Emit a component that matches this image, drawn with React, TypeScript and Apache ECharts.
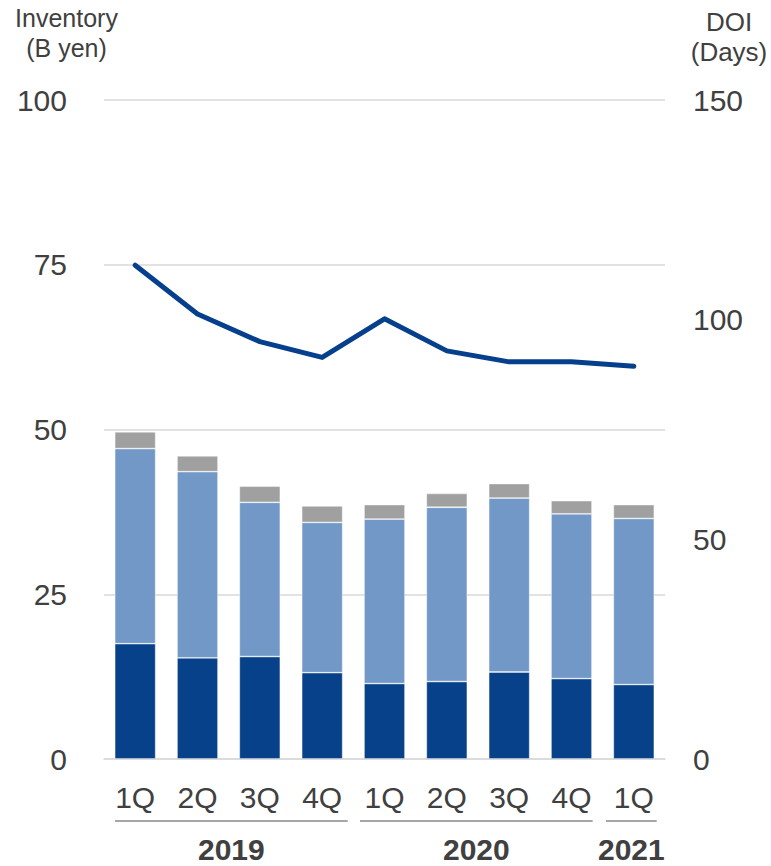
import React, { useEffect, useRef } from "react";
import * as echarts from "echarts";

const quarters = ["1Q", "2Q", "3Q", "4Q", "1Q", "2Q", "3Q", "4Q", "1Q"];
const quarterYears = ["2019", "2019", "2019", "2019", "2020", "2020", "2020", "2020", "2021"];
const years = ["2019", "2020", "2021"];
const inventoryBottom = [17.5, 15.35, 15.55, 13.1, 11.45, 11.75, 13.2, 12.2, 11.3];
const inventoryMiddle = [29.6, 28.25, 23.4, 22.8, 24.95, 26.45, 26.4, 25.0, 25.2];
const inventoryTop = [2.55, 2.4, 2.45, 2.5, 2.2, 2.1, 2.2, 2.0, 2.1];
const doiDays = [112.4, 101.3, 95.0, 91.4, 100.2, 92.9, 90.4, 90.4, 89.4];
const leftAxisName = ["Inventory", "(B yen)"];
const rightAxisName = ["DOI", "(Days)"];

const FONT = "'Liberation Sans', Arial, Helvetica, sans-serif";
const TEXT = "#404040";
const GRID_LINE = "#D9D9D9";

export default function App() {
  const ref = useRef<HTMLDivElement>(null);

  useEffect(() => {
    if (!ref.current) return;
    const chart = echarts.init(ref.current, undefined, { renderer: "svg" });
    const categories = quarters.map((q, i) => `${quarterYears[i]}-${q}`);

    chart.setOption({
      animation: false,
      textStyle: { fontFamily: FONT },
      grid: { left: 104, right: 106, top: 100, bottom: 107, outerBoundsMode: "none" },
      xAxis: {
        type: "category",
        data: categories,
        axisLine: { show: true, lineStyle: { color: GRID_LINE, width: 1.5 } },
        axisTick: { show: false },
        axisLabel: {
          margin: 23,
          fontSize: 30,
          color: TEXT,
          fontFamily: FONT,
          formatter: (v: string) => v.split("-")[1],
        },
      },
      yAxis: [
        {
          type: "value",
          min: 0,
          max: 100,
          interval: 25,
          axisLine: { show: false },
          axisTick: { show: false },
          splitLine: { show: true, lineStyle: { color: GRID_LINE, width: 1.5 } },
          axisLabel: { margin: 37, fontSize: 30, color: TEXT, fontFamily: FONT },
        },
        {
          type: "value",
          min: 0,
          max: 150,
          interval: 50,
          axisLine: { show: false },
          axisTick: { show: false },
          splitLine: { show: false },
          axisLabel: { margin: 28, fontSize: 30, color: TEXT, fontFamily: FONT },
        },
      ],
      series: [
        {
          type: "bar",
          stack: "inv",
          data: inventoryBottom,
          barWidth: 41,
          itemStyle: { color: "#06418A", borderColor: "rgba(255,255,255,0.5)", borderWidth: 0.8 },
        },
        {
          type: "bar",
          stack: "inv",
          data: inventoryMiddle,
          barWidth: 41,
          itemStyle: { color: "#7298C7", borderColor: "rgba(255,255,255,0.5)", borderWidth: 0.8 },
        },
        {
          type: "bar",
          stack: "inv",
          data: inventoryTop,
          barWidth: 41,
          itemStyle: { color: "#A0A0A0", borderColor: "rgba(255,255,255,0.5)", borderWidth: 0.8 },
        },
        {
          type: "line",
          yAxisIndex: 1,
          data: doiDays,
          symbol: "none",
          lineStyle: { color: "#063F8C", width: 5, cap: "round", join: "round" },
          z: 5,
        },
      ],
    });

    // group lines & year labels, positioned through the axis scale
    const c0 = chart.convertToPixel({ xAxisIndex: 0 }, categories[0]) as number;
    const c1 = chart.convertToPixel({ xAxisIndex: 0 }, categories[1]) as number;
    const band = c1 - c0;
    const baseY = chart.convertToPixel({ yAxisIndex: 0 }, 0) as number;
    const insets = [
      [11, 5.6],
      [6.7, 10],
      [3.3, 8.3],
    ];
    const graphics: any[] = [];
    years.forEach((yr, gi) => {
      const idx = quarterYears
        .map((y, i) => (y === yr ? i : -1))
        .filter((i) => i >= 0);
      const first = chart.convertToPixel({ xAxisIndex: 0 }, categories[idx[0]]) as number;
      const last = chart.convertToPixel({ xAxisIndex: 0 }, categories[idx[idx.length - 1]]) as number;
      const x1 = first - band / 2 + insets[gi][0];
      const x2 = last + band / 2 - insets[gi][1];
      graphics.push({
        type: "line",
        shape: { x1, y1: baseY + 62, x2, y2: baseY + 62 },
        style: { stroke: "#A6A6A6", lineWidth: 2 },
      });
      graphics.push({
        type: "text",
        x: (x1 + x2) / 2,
        y: baseY + 90,
        style: {
          text: yr,
          fontSize: 30,
          fontWeight: "bold",
          fontFamily: FONT,
          fill: TEXT,
          align: "center",
          verticalAlign: "middle",
        },
      });
    });
    leftAxisName.forEach((t, i) => {
      graphics.push({
        type: "text",
        x: 66.5,
        y: 18 + i * 30,
        style: { text: t, fontSize: 25, fontFamily: FONT, fill: TEXT, align: "center", verticalAlign: "middle" },
      });
    });
    rightAxisName.forEach((t, i) => {
      graphics.push({
        type: "text",
        x: 729,
        y: 22 + i * 30,
        style: { text: t, fontSize: 26, fontFamily: FONT, fill: TEXT, align: "center", verticalAlign: "middle" },
      });
    });
    chart.setOption({ graphic: graphics });

    return () => chart.dispose();
  }, []);

  return (
    <div
      ref={ref}
      style={{ position: "absolute", left: 0, top: 0, width: 771, height: 866, background: "#fff" }}
    />
  );
}
